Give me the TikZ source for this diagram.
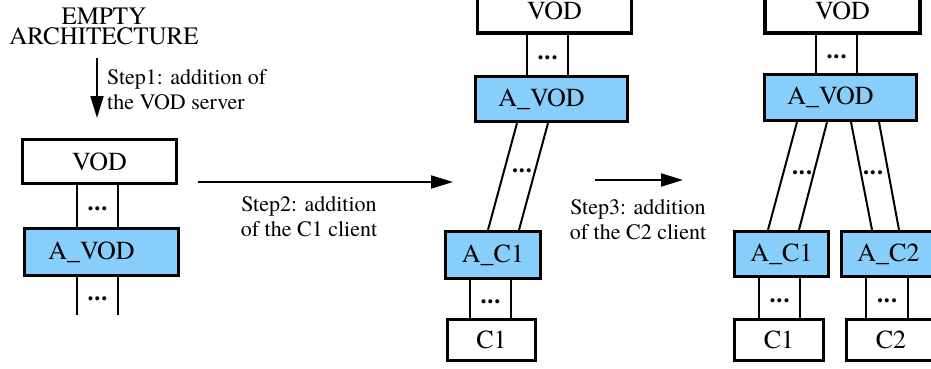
\documentclass[tikz,border=0pt]{standalone}
\usepackage{fontspec}
\setmainfont{TeX Gyre Termes}
\usetikzlibrary{arrows.meta,calc}
\definecolor{boxblue}{RGB}{135,206,250}
\begin{document}
\begin{tikzpicture}[x=1pt,y=-1pt,
 box/.style={draw=black,line width=3.2pt,fill=white,inner sep=0pt,font=\fontsize{26}{28}\selectfont},
 abox/.style={box,fill=boxblue},
 link/.style={line width=2pt},
 dotsn/.style={inner sep=0pt,yshift=-3pt,font=\fontsize{24}{24}\selectfont\bfseries},
 steparrow/.style={line width=2pt,-{Triangle[length=22pt,width=13pt]}},
 steptext/.style={inner sep=0pt,font=\fontsize{22}{25}\selectfont}]
\useasboundingbox (0,0) rectangle (931,369);
\clip (0,0) rectangle (931,369);
% ---------- left
\node[box,minimum width=154,minimum height=44] (v0) at (99.5,161.5) {VOD};
\node[abox,minimum width=154,minimum height=47] (a0) at (101.5,252) {\hspace*{-20pt}A\_VOD};
\coordinate (e0l) at (77,315);
\coordinate (e0r) at (118,315);
\draw[link] (e0l |- v0.south) -- (e0l |- a0.north);
\draw[link] (e0r |- v0.south) -- (e0r |- a0.north);
\draw[link] (e0l |- a0.south) -- (e0l);
\draw[link] (e0r |- a0.south) -- (e0r);
\node[dotsn] (d0a) at ($(e0l |- v0.south)!0.5!(e0r |- a0.north)$) {.\kern1pt.\kern1pt.};
\node[dotsn] (d0b) at ($(e0l |- a0.south)!0.5!(e0r)$) {.\kern1pt.\kern1pt.};
% ---------- middle
\node[box,minimum width=154,minimum height=44] (v1) at (554.5,11) {VOD};
\node[abox,minimum width=152,minimum height=45] (a1) at (551.5,99) {\hspace*{-20pt}A\_VOD};
\node[abox,minimum width=95,minimum height=47] (ac1) at (493,255) {A\_C1};
\node[box,minimum width=88,minimum height=41] (c1) at (491.5,340) {C1};
\coordinate (m1l) at (527,0);
\coordinate (m1r) at (568,0);
\draw[link] (m1l |- v1.south) -- (m1l |- a1.north);
\draw[link] (m1r |- v1.south) -- (m1r |- a1.north);
\node[dotsn] (d1a) at ($(m1l |- v1.south)!0.5!(m1r |- a1.north)$) {.\kern1pt.\kern1pt.};
\draw[link] ([xshift=-34.5pt]a1.south) -- ([xshift=-5pt]ac1.north);
\draw[link] ([xshift=-3.5pt]a1.south) -- ([xshift=26pt]ac1.north);
\node[dotsn] (d1b) at (522,168) {.\kern1pt.\kern1pt.};
\coordinate (m2l) at (470,0);
\coordinate (m2r) at (511,0);
\draw[link] (m2l |- ac1.south) -- (m2l |- c1.north);
\draw[link] (m2r |- ac1.south) -- (m2r |- c1.north);
\node[dotsn] (d1c) at ($(m2l |- ac1.south)!0.5!(m2r |- c1.north)$) {.\kern1pt.\kern1pt.};
% ---------- right
\node[box,minimum width=155,minimum height=44] (v2) at (842.5,11) {VOD};
\node[abox,minimum width=152,minimum height=46] (a2) at (840.5,97.5) {\hspace*{-20pt}A\_VOD};
\node[abox,minimum width=94,minimum height=45] (ac1b) at (781.5,254) {A\_C1};
\node[abox,minimum width=94,minimum height=45] (ac2) at (888.5,254) {A\_C2};
\node[box,minimum width=89,minimum height=41] (c1b) at (779,340) {C1};
\node[box,minimum width=89,minimum height=41] (c2) at (891,340) {C2};
\coordinate (r1l) at (816,0);
\coordinate (r1r) at (857,0);
\draw[link] (r1l |- v2.south) -- (r1l |- a2.north);
\draw[link] (r1r |- v2.south) -- (r1r |- a2.north);
\node[dotsn] (d2a) at ($(r1l |- v2.south)!0.5!(r1r |- a2.north)$) {.\kern1pt.\kern1pt.};
\draw[link] ([xshift=-43.5pt]a2.south) -- ([xshift=-13.5pt]ac1b.north);
\draw[link] ([xshift=-13.5pt]a2.south) -- ([xshift=17.5pt]ac1b.north);
\node[dotsn] (d2b) at (802,170) {.\kern1pt.\kern1pt.};
\draw[link] ([xshift=10.5pt]a2.south) -- ([xshift=-16.5pt]ac2.north);
\draw[link] ([xshift=38.5pt]a2.south) -- ([xshift=10.5pt]ac2.north);
\node[dotsn] (d2c) at (873,170) {.\kern1pt.\kern1pt.};
\coordinate (r2l) at (759,0);
\coordinate (r2r) at (800,0);
\draw[link] (r2l |- ac1b.south) -- (r2l |- c1b.north);
\draw[link] (r2r |- ac1b.south) -- (r2r |- c1b.north);
\node[dotsn] (d2d) at ($(r2l |- ac1b.south)!0.5!(r2r |- c1b.north)$) {.\kern1pt.\kern1pt.};
\coordinate (r3l) at (866,0);
\coordinate (r3r) at (908,0);
\draw[link] (r3l |- ac2.south) -- (r3l |- c2.north);
\draw[link] (r3r |- ac2.south) -- (r3r |- c2.north);
\node[dotsn] (d2e) at ($(r3l |- ac2.south)!0.5!(r3r |- c2.north)$) {.\kern1pt.\kern1pt.};
% ---------- labels and step arrows
\node[align=center,inner sep=0pt,anchor=north,font=\fontsize{25}{20}\selectfont] (empty) at (104,8) {EMPTY\\ARCHITECTURE};
\coordinate (s1a) at (97,58);
\coordinate (s1b) at (97,118);
\draw[steparrow] (s1a) -- (s1b);
\node[steptext,align=left,anchor=north west] (t1) at (107,69) {Step1: addition of\\the VOD server};
\coordinate (s2a) at (198,182);
\coordinate (s2b) at (453,182);
\draw[steparrow] (s2a) -- (s2b);
\node[steptext,align=center,anchor=north] (t2) at (309,196) {Step2: addition\\of the C1 client};
\coordinate (s3a) at (595,180);
\coordinate (s3b) at (683,180);
\draw[steparrow] (s3a) -- (s3b);
\node[steptext,align=center,anchor=north] (t3) at (638,199) {Step3: addition\\of the C2 client};
\end{tikzpicture}
\end{document}
